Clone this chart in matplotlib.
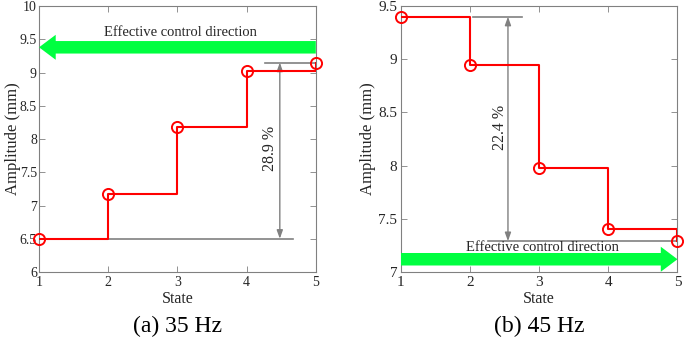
import matplotlib.pyplot as plt
from matplotlib.patches import FancyArrowPatch

plt.rcParams['font.family'] = ['Liberation Serif', 'DejaVu Serif']

states = [1, 2, 3, 4, 5]
amp_35 = [6.5, 7.17, 8.18, 9.03, 9.15]
amp_45 = [9.4, 8.95, 7.98, 7.40, 7.29]
pct_35 = "28.9 %"
pct_45 = "22.4 %"
captions = ["(a) 35 Hz", "(b) 45 Hz"]

gray = '#808080'
tick_col = '#262626'

fig = plt.figure(figsize=(6.85, 3.49), dpi=100)
ax1 = fig.add_axes([0.057, 0.2206, 0.404, 0.762])
ax2 = fig.add_axes([0.585, 0.2206, 0.404, 0.762])


def style(ax, ylim, yticks, yticklabels, tick_size, pad, ylab_size, ylab_x):
    ax.set_xlim(1, 5)
    ax.set_ylim(*ylim)
    ax.set_xticks(states)
    ax.set_yticks(yticks)
    ax.set_yticklabels(yticklabels)
    ax.tick_params(direction='in', top=True, right=True, labelsize=tick_size,
                   colors=tick_col, length=4, width=0.6, pad=3)
    ax.tick_params(axis='y', pad=pad)
    ax.tick_params(color=gray)
    for s in ax.spines.values():
        s.set_color(gray)
        s.set_linewidth(0.8)
    ax.set_xlabel('State', fontsize=11.5, color=tick_col, labelpad=1)
    ax.set_ylabel('Amplitude (mm)', fontsize=ylab_size, color=tick_col)
    ax.yaxis.set_label_coords(ylab_x, 0.5)


def green_arrow(ax, x0, x1, y):
    arr = FancyArrowPatch((x0, y), (x1, y), arrowstyle='simple,head_width=1.8,head_length=1.2,tail_width=0.9',
                          mutation_scale=10, color='#00ff40', lw=0, zorder=3, shrinkA=0, shrinkB=0)
    ax.add_patch(arr)


def dim(ax, x, y0, y1):
    ax.annotate('', xy=(x, y0), xytext=(x, y1),
                arrowprops=dict(arrowstyle='<|-|>,head_width=0.18,head_length=0.5',
                                color=gray, lw=1.0, shrinkA=0, shrinkB=0))


# (a) 35 Hz
ax1.step(states, amp_35, where='post', color='red', lw=1.5, zorder=4)
ax1.plot(states, amp_35, 'o', mfc='none', mec='red', ms=8, mew=1.4, zorder=5, clip_on=False)
ax1.plot([2, 4.67], [amp_35[0], amp_35[0]], color=gray, lw=1.2, zorder=2)
ax1.plot([4.26, 5], [amp_35[-1], amp_35[-1]], color=gray, lw=1.2, zorder=2)
dim(ax1, 4.48, amp_35[0], amp_35[-1])
ax1.text(4.34, 7.86, pct_35, rotation=90, ha='center', va='center', fontsize=11.5, color=tick_col)
green_arrow(ax1, 5, 1, 9.38)
ax1.text(3.05, 9.6, 'Effective control direction', ha='center', va='center', fontsize=10.5, color=tick_col)
style(ax1, (6, 10), [6, 6.5, 7, 7.5, 8, 8.5, 9, 9.5, 10],
      ['6', '6.5', '7', '7.5', '8', '8.5', '9', '9.5', '10'], 10, 1.5, 12, -0.066)

# (b) 45 Hz
ax2.step(states, amp_45, where='post', color='red', lw=1.5, zorder=4)
ax2.plot(states, amp_45, 'o', mfc='none', mec='red', ms=8, mew=1.4, zorder=5, clip_on=False)
ax2.plot([2.04, 2.76], [amp_45[0], amp_45[0]], color=gray, lw=1.2, zorder=2)
ax2.plot([2.26, 5], [amp_45[-1], amp_45[-1]], color=gray, lw=1.2, zorder=2)
dim(ax2, 2.55, amp_45[-1], amp_45[0])
ax2.text(2.43, 8.36, pct_45, rotation=90, ha='center', va='center', fontsize=11.5, color=tick_col)
green_arrow(ax2, 1, 5, 7.12)
ax2.text(3.05, 7.235, 'Effective control direction', ha='center', va='center', fontsize=10.5, color=tick_col)
style(ax2, (7, 9.5), [7, 7.5, 8, 8.5, 9, 9.5], ['7', '7.5', '8', '8.5', '9', '9.5'],
      11, 2.5, 12, -0.088)

fig.text(0.259, 0.066, captions[0], ha='center', va='center', fontsize=17)
fig.text(0.787, 0.066, captions[1], ha='center', va='center', fontsize=17)

fig.savefig('out.png', dpi=100)
